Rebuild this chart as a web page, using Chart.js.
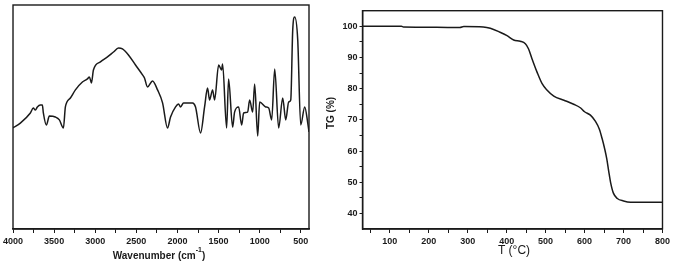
<!DOCTYPE html>
<html>
<head>
<meta charset="utf-8">
<script src="https://cdn.jsdelivr.net/npm/chart.js@4.4.0/dist/chart.umd.min.js"></script>
<style>
  html, body { margin: 0; padding: 0; background: #fff; }
  body { width: 673px; height: 268px; position: relative; overflow: hidden; }
  canvas { position: absolute; top: 0; }
  #ir { left: 0; }
  #tg { left: 318px; }
</style>
</head>
<body>
<canvas id="ir" width="320" height="268"></canvas>
<canvas id="tg" width="355" height="268"></canvas>
<script>
// FT-IR spectrum (left), transmittance in arbitrary units 0-100
const irWavenumber = [4000, 3911, 3789, 3753, 3728, 3704, 3668, 3643, 3631, 3594, 3558, 3485, 3436, 3387, 3363, 3302,
  3241, 3156, 3095, 3071, 3046, 3022, 2937, 2851, 2778, 2717, 2669, 2596, 2510, 2425, 2401, 2364, 2303, 2242, 2181,
  2121, 2084, 2023, 1987, 1962, 1926, 1816, 1780, 1719, 1670, 1634, 1609, 1573, 1548, 1499, 1463, 1451, 1402, 1378,
  1329, 1305, 1256, 1219, 1195, 1146, 1122, 1085, 1061, 1024, 1000, 927, 890, 854, 817, 769, 720, 683, 647, 622,
  598, 574, 537, 501, 452, 415, 400];
const irTransmittance = [45.2, 47.3, 51.8, 54.0, 53.1, 54.5, 55.4, 55.4, 51.8, 46.4, 50.4, 50.0, 48.7, 45.1, 54.5, 58.5,
  62.1, 65.6, 67.0, 67.9, 65.2, 71.0, 74.6, 76.8, 79.0, 80.8, 80.4, 77.7, 73.2, 68.8, 67.4, 63.4, 66.1, 62.1, 56.3,
  45.1, 50.0, 54.5, 55.8, 54.5, 56.3, 56.3, 54.5, 42.9, 54.5, 62.9, 57.6, 62.1, 57.6, 73.2, 71.0, 73.7, 45.1, 67.0,
  45.5, 52.2, 54.5, 46.4, 51.8, 52.2, 57.6, 52.2, 64.7, 41.5, 56.7, 54.5, 54.0, 48.7, 71.4, 45.1, 58.5, 48.7, 56.7, 57.6,
  88.8, 94.6, 84.4, 46.4, 54.5, 47.3, 43.3];
const irTicks = [4000, 3750, 3500, 3250, 3000, 2750, 2500, 2250, 2000, 1750, 1500, 1250, 1000, 750, 500];

// TG curve (right)
const tgTemp = [30, 130, 135, 220, 280, 290, 340, 358, 383, 401, 418, 435, 448, 456, 465, 478, 491, 504, 521, 547,
  572, 590, 600, 615, 628, 638, 645, 652, 657, 662, 667, 674, 684, 700, 718, 800];
const tgMass = [100, 100, 99.8, 99.7, 99.6, 99.9, 99.8, 99.4, 98.1, 97.0, 95.6, 95.2, 94.4, 92.8, 89.6, 85.3, 81.6,
  79.5, 77.6, 76.3, 75.0, 73.8, 72.6, 71.5, 69.5, 67.0, 64.0, 60.5, 57.5, 53.5, 49.8, 46.5, 44.8, 44.0, 43.6, 43.6];
const tgXTicks = [50, 100, 150, 200, 250, 300, 350, 400, 450, 500, 550, 600, 650, 700, 750, 800];
const tgYTicks = [40, 45, 50, 55, 60, 65, 70, 75, 80, 85, 90, 95, 100];

const ink = '#1a1a1a';
const tickFont = { family: '"Liberation Sans", Arial, sans-serif', size: 9, weight: 'bold' };

const framePlugin = {
  id: 'frame',
  afterDraw(chart) {
    const { ctx, chartArea: a } = chart;
    ctx.save();
    ctx.strokeStyle = ink;
    ctx.lineWidth = 1.4;
    ctx.strokeRect(a.left, a.top, a.right - a.left, a.bottom - a.top);
    ctx.restore();
  }
};

const irTitle = {
  id: 'irTitle',
  afterDraw(chart) {
    const ctx = chart.ctx;
    ctx.save();
    ctx.fillStyle = ink;
    ctx.textBaseline = 'middle';
    ctx.textAlign = 'left';
    const big = 'bold 10px "Liberation Sans", Arial, sans-serif';
    const small = 'bold 7px "Liberation Sans", Arial, sans-serif';
    ctx.font = big;
    const w1 = ctx.measureText('Wavenumber (cm').width;
    const w3 = ctx.measureText(')').width;
    ctx.font = small;
    const w2 = ctx.measureText('-1').width;
    let x = 159 - (w1 + w2 + w3) / 2;
    ctx.font = big;
    ctx.fillText('Wavenumber (cm', x, 256);
    x += w1;
    ctx.font = small;
    ctx.fillText('-1', x, 250);
    x += w2;
    ctx.font = big;
    ctx.fillText(')', x, 256);
    ctx.restore();
  }
};

const tgTitle = {
  id: 'tgTitle',
  afterDraw(chart) {
    const ctx = chart.ctx;
    ctx.save();
    ctx.fillStyle = ink;
    ctx.textAlign = 'center';
    ctx.textBaseline = 'middle';
    ctx.font = '12px "Liberation Sans", Arial, sans-serif';
    ctx.fillText('T (°C)', 196, 250.5);
    ctx.translate(13, 113);
    ctx.rotate(-Math.PI / 2);
    ctx.font = 'bold 10px "Liberation Sans", Arial, sans-serif';
    ctx.fillText('TG (%)', 0, 0);
    ctx.restore();
  }
};

const gridOpts = { drawOnChartArea: false, drawTicks: true, tickLength: 4, color: ink, lineWidth: 1 };

new Chart(document.getElementById('ir'), {
  type: 'line',
  data: {
    datasets: [{
      data: irWavenumber.map((w, i) => ({ x: w, y: irTransmittance[i] })),
      borderColor: ink,
      borderWidth: 1.5,
      pointRadius: 0,
      cubicInterpolationMode: 'monotone'
    }]
  },
  options: {
    responsive: false,
    animation: false,
    devicePixelRatio: 1,
    layout: { padding: { left: 13, right: 11, top: 5, bottom: 0 } },
    plugins: { legend: { display: false }, tooltip: { enabled: false } },
    scales: {
      x: {
        type: 'linear',
        reverse: true,
        min: 400,
        max: 4000,
        afterBuildTicks: s => { s.ticks = irTicks.map(v => ({ value: v })); },
        afterFit: s => { s.height = 39; },
        grid: gridOpts,
        border: { color: ink, width: 1.4 },
        ticks: {
          autoSkip: false,
          maxRotation: 0,
          padding: 3,
          color: ink,
          font: tickFont,
          callback: v => (v % 500 === 0 ? String(v) : '')
        }
      },
      y: { display: false, min: 0, max: 100 }
    }
  },
  plugins: [framePlugin, irTitle]
});

new Chart(document.getElementById('tg'), {
  type: 'line',
  data: {
    datasets: [{
      data: tgTemp.map((t, i) => ({ x: t, y: tgMass[i] })),
      borderColor: ink,
      borderWidth: 1.5,
      pointRadius: 0,
      cubicInterpolationMode: 'monotone'
    }]
  },
  options: {
    responsive: false,
    animation: false,
    devicePixelRatio: 1,
    layout: { padding: { left: 0, right: 10.5, top: 10.7, bottom: 0 } },
    plugins: { legend: { display: false }, tooltip: { enabled: false } },
    scales: {
      x: {
        type: 'linear',
        min: 30,
        max: 800,
        afterBuildTicks: s => { s.ticks = tgXTicks.map(v => ({ value: v })); },
        afterFit: s => { s.height = 39; },
        grid: gridOpts,
        border: { color: ink, width: 1.4 },
        ticks: {
          autoSkip: false,
          maxRotation: 0,
          padding: 3,
          color: ink,
          font: tickFont,
          callback: v => (v % 100 === 0 ? String(v) : '')
        }
      },
      y: {
        type: 'linear',
        min: 35,
        max: 105,
        afterBuildTicks: s => { s.ticks = tgYTicks.map(v => ({ value: v })); },
        afterFit: s => { s.width = 44.5; },
        grid: { ...gridOpts, tickLength: 3 },
        border: { color: ink, width: 1.4 },
        ticks: {
          autoSkip: false,
          padding: 2,
          color: ink,
          font: tickFont,
          callback: v => (v % 10 === 0 ? String(v) : '')
        }
      }
    }
  },
  plugins: [framePlugin, tgTitle]
});
</script>
</body>
</html>
